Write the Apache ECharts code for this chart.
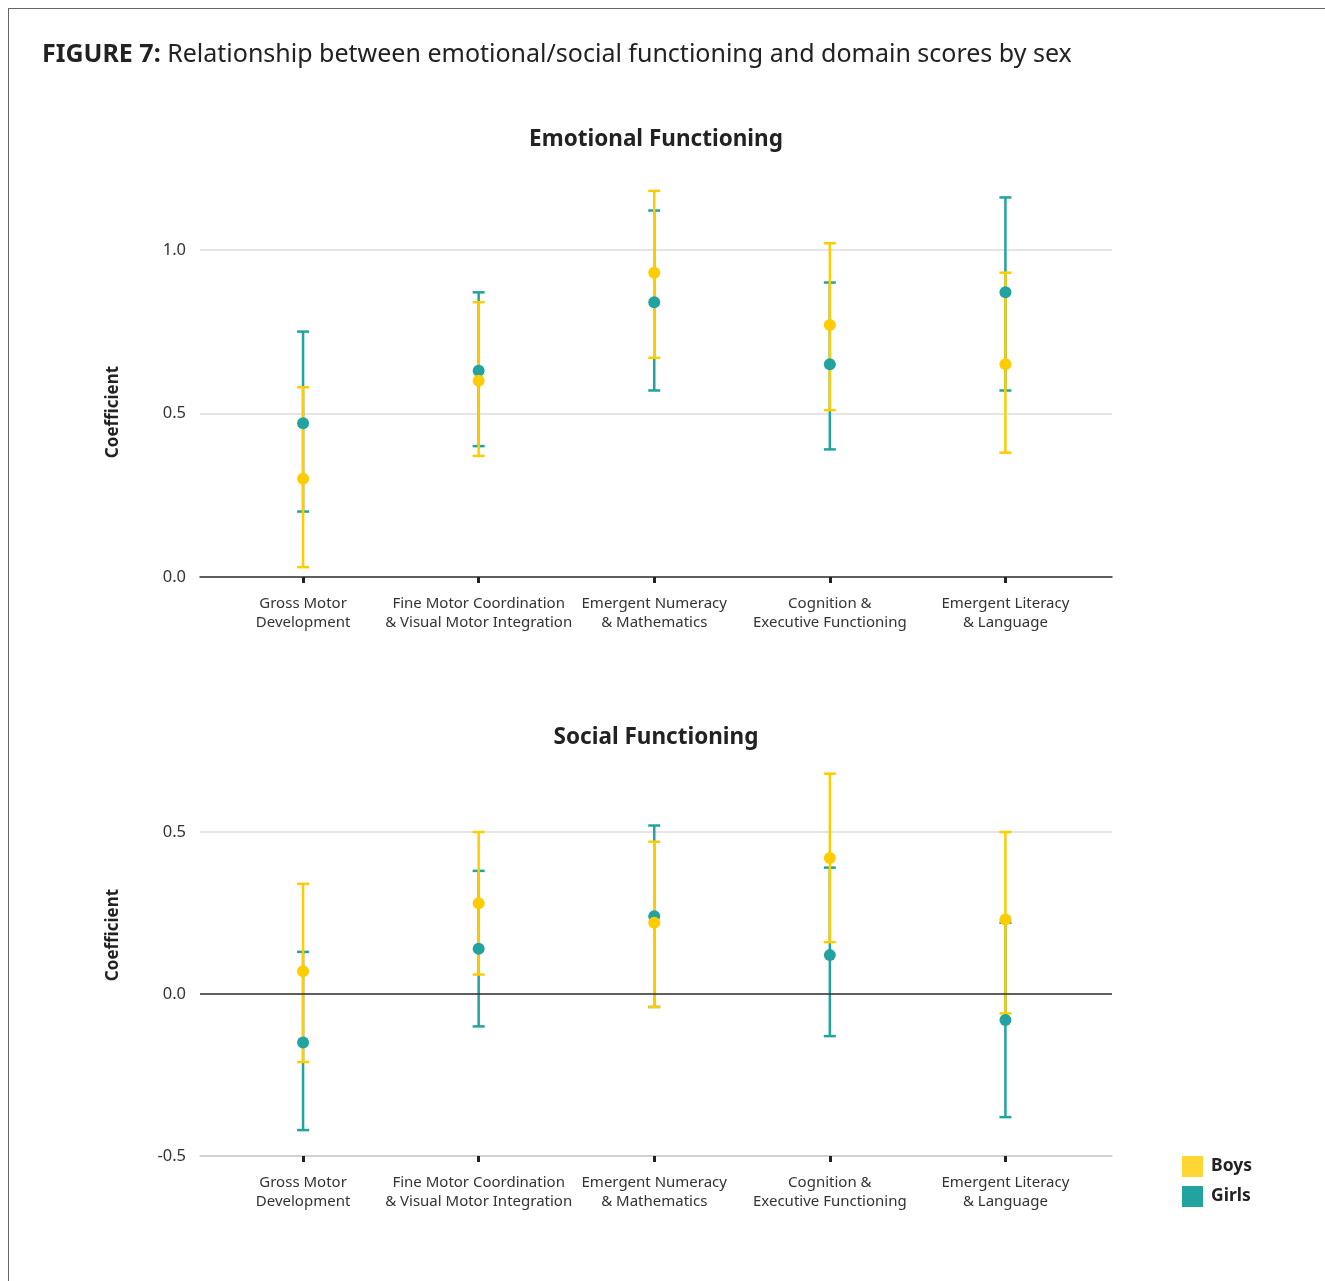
<!DOCTYPE html>
<html>
<head>
<meta charset="utf-8">
<script src="https://cdn.jsdelivr.net/npm/echarts@6/dist/echarts.min.js"></script>
<style>
  body { margin: 0; background: #fff; }
  .frame { position: absolute; left: 8px; top: 8px; width: 1330px; height: 1300px; border: 1px solid #666; box-sizing: border-box; }
  #chart { position: absolute; left: 0; top: 0; width: 1325px; height: 1281px; }
</style>
</head>
<body>
<div class="frame"></div>
<div id="chart"></div>
<script>
// categories along the x axis
const categories = [
  'Gross Motor\nDevelopment',
  'Fine Motor Coordination\n& Visual Motor Integration',
  'Emergent Numeracy\n& Mathematics',
  'Cognition &\nExecutive Functioning',
  'Emergent Literacy\n& Language'
]

// emotional functioning: coefficient and confidence interval
const boysEmoPoint = [0.30, 0.60, 0.93, 0.77, 0.65]
const boysEmoLow = [0.03, 0.37, 0.67, 0.51, 0.38]
const boysEmoHigh = [0.58, 0.84, 1.18, 1.02, 0.93]
const girlsEmoPoint = [0.47, 0.63, 0.84, 0.65, 0.87]
const girlsEmoLow = [0.20, 0.40, 0.57, 0.39, 0.57]
const girlsEmoHigh = [0.75, 0.87, 1.12, 0.90, 1.16]

// social functioning
const boysSocPoint = [0.07, 0.28, 0.22, 0.42, 0.23]
const boysSocLow = [-0.21, 0.06, -0.04, 0.16, -0.06]
const boysSocHigh = [0.34, 0.50, 0.47, 0.68, 0.50]
const girlsSocPoint = [-0.15, 0.14, 0.24, 0.12, -0.08]
const girlsSocLow = [-0.42, -0.10, -0.04, -0.13, -0.38]
const girlsSocHigh = [0.13, 0.38, 0.52, 0.39, 0.22]

// y tick labels
const emoTicks = [0, 0.5, 1.0]
const socTicks = [-0.5, 0, 0.5]

const BOYS = '#FFCC00'
const GIRLS = '#22A39F'
const FONT = '"Noto Sans", "Open Sans", sans-serif'

const chart = echarts.init(document.getElementById('chart'))

function errorSeries(name, color, gi, low, high) {
  return {
    name: name,
    type: 'custom',
    xAxisIndex: gi,
    yAxisIndex: gi,
    silent: true,
    z: 2,
    data: low.map((v, i) => [i, v, high[i]]),
    itemStyle: { color: color },
    renderItem: function(params, api) {
      const lo = api.coord([api.value(0), api.value(1)])
      const hi = api.coord([api.value(0), api.value(2)])
      const w = 6
      const style = { stroke: color, lineWidth: 2.5 }
      return {
        type: 'group',
        children: [
          { type: 'line', shape: { x1: lo[0], y1: lo[1], x2: hi[0], y2: hi[1] }, style: style },
          { type: 'line', shape: { x1: lo[0] - w, y1: lo[1], x2: lo[0] + w, y2: lo[1] }, style: style },
          { type: 'line', shape: { x1: hi[0] - w, y1: hi[1], x2: hi[0] + w, y2: hi[1] }, style: style }
        ]
      }
    }
  }
}

function pointSeries(name, color, gi, pts) {
  return {
    name: name,
    type: 'scatter',
    xAxisIndex: gi,
    yAxisIndex: gi,
    symbolSize: 12,
    z: 3,
    itemStyle: { color: color, opacity: 1 },
    data: pts.map((v, i) => [i, v])
  }
}

function xAxisFor(gi, lineColor) {
  return {
    type: 'value',
    gridIndex: gi,
    min: -0.587,
    max: 4.607,
    splitLine: { show: false },
    axisLine: { show: true, onZero: false, lineStyle: { color: lineColor, width: 1.5 } },
    axisTick: { show: true, customValues: [0, 1, 2, 3, 4], length: 6, lineStyle: { color: '#222', width: 3 } },
    axisLabel: {
      customValues: [0, 1, 2, 3, 4],
      formatter: v => categories[Math.round(v)],
      color: '#333',
      fontFamily: FONT,
      fontSize: 15,
      lineHeight: 19,
      margin: 17
    }
  }
}

function yAxisFor(gi, min, max, ticks) {
  return {
    type: 'value',
    gridIndex: gi,
    min: min,
    max: max,
    interval: 0.5,
    axisLine: { show: false },
    axisTick: { show: false },
    splitLine: { show: true, showMaxLine: false, lineStyle: { color: '#dcdcdc', width: 1.5 } },
    axisLabel: {
      showMaxLabel: false,
      color: '#333',
      fontFamily: FONT,
      fontSize: 16.5,
      margin: 14,
      formatter: v => ticks.indexOf(v) >= 0 ? v.toFixed(1) : ''
    }
  }
}

const zeroLine = {
  silent: true,
  symbol: 'none',
  label: { show: false },
  lineStyle: { color: '#333', width: 1.5, type: 'solid' },
  data: [{ yAxis: 0 }]
}

const girlsSocErr = errorSeries('Girls', GIRLS, 1, girlsSocLow, girlsSocHigh)
girlsSocErr.markLine = zeroLine

chart.setOption({
  backgroundColor: 'transparent',
  animation: false,
  title: [
    {
      text: '{b|FIGURE 7:} Relationship between emotional/social functioning and domain scores by sex',
      left: 37,
      top: 37,
      textStyle: {
        fontFamily: FONT,
        fontSize: 25,
        fontWeight: 'normal',
        color: '#222',
        rich: { b: { fontFamily: FONT, fontSize: 25, fontWeight: 'bold', color: '#222' } }
      }
    },
    {
      text: 'Emotional Functioning',
      left: 651,
      textAlign: 'center',
      top: 123,
      textStyle: { fontFamily: FONT, fontSize: 22.5, fontWeight: 'bold', color: '#222' }
    },
    {
      text: 'Social Functioning',
      left: 651,
      textAlign: 'center',
      top: 721,
      textStyle: { fontFamily: FONT, fontSize: 22.5, fontWeight: 'bold', color: '#222' }
    }
  ],
  legend: {
    orient: 'vertical',
    left: 1182,
    top: 1156,
    padding: 0,
    itemWidth: 21,
    itemHeight: 21,
    itemGap: 9,
    icon: 'rect',
    data: [
      { name: 'Boys', itemStyle: { color: '#FFD633' } },
      { name: 'Girls', itemStyle: { color: GIRLS } }
    ],
    textStyle: { fontFamily: FONT, fontSize: 17.5, fontWeight: 'bold', color: '#222', padding: [0, 0, 0, 3] }
  },
  graphic: [
    { type: 'text', x: 113, y: 412, rotation: Math.PI / 2, style: { text: 'Coefficient', fontFamily: FONT, fontSize: 17, fontWeight: 'bold', fill: '#222', align: 'center', verticalAlign: 'middle' } },
    { type: 'text', x: 113, y: 935, rotation: Math.PI / 2, style: { text: 'Coefficient', fontFamily: FONT, fontSize: 17, fontWeight: 'bold', fill: '#222', align: 'center', verticalAlign: 'middle' } }
  ],
  grid: [
    { left: 200, width: 912, top: 168, height: 409 },
    { left: 200, width: 912, top: 751, height: 405 }
  ],
  xAxis: [xAxisFor(0, '#333'), xAxisFor(1, '#cccccc')],
  yAxis: [yAxisFor(0, 0, 1.25, emoTicks), yAxisFor(1, -0.5, 0.75, socTicks)],
  series: [
    errorSeries('Girls', GIRLS, 0, girlsEmoLow, girlsEmoHigh),
    pointSeries('Girls', GIRLS, 0, girlsEmoPoint),
    errorSeries('Boys', BOYS, 0, boysEmoLow, boysEmoHigh),
    pointSeries('Boys', BOYS, 0, boysEmoPoint),
    girlsSocErr,
    pointSeries('Girls', GIRLS, 1, girlsSocPoint),
    errorSeries('Boys', BOYS, 1, boysSocLow, boysSocHigh),
    pointSeries('Boys', BOYS, 1, boysSocPoint)
  ]
})
</script>
</body>
</html>
